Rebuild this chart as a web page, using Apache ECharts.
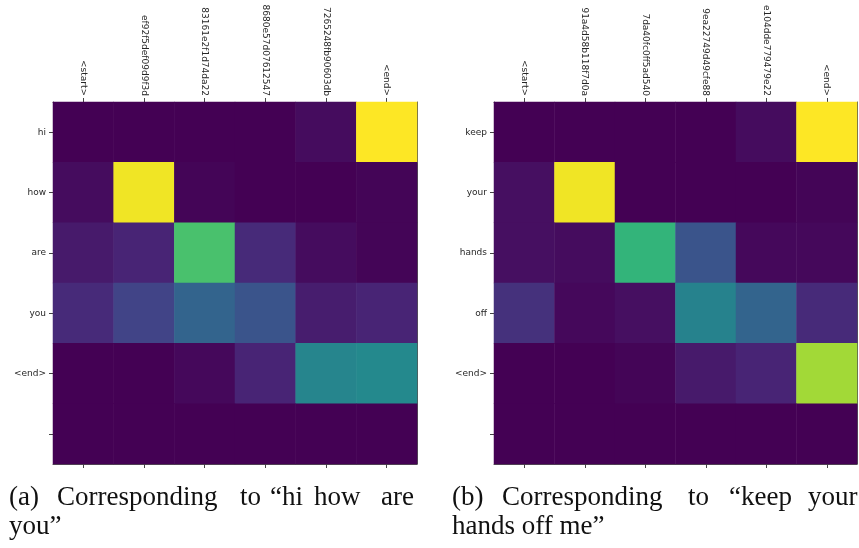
<!DOCTYPE html>
<html>
<head>
<meta charset="utf-8">
<script src="https://cdn.jsdelivr.net/npm/echarts@6/dist/echarts.min.js"></script>
<style>html,body{margin:0;padding:0;background:#fff;}#c{width:859px;height:548px;}</style>
</head>
<body>
<div id="c"></div>
<script>
// ---- data ----
var colsA = ['<start>', 'ef92f5def09d9f3d', '83161e2f1d74da22', '8680e57d07612547', '7265248fb90603db', '<end>'];
var rowsA = ['hi', 'how', 'are', 'you', '<end>', ''];
var valuesA = [
  [0.00, 0.00, 0.00, 0.00, 0.03, 1.00],
  [0.03, 0.98, 0.01, 0.00, 0.00, 0.01],
  [0.07, 0.10, 0.71, 0.12, 0.03, 0.01],
  [0.12, 0.20, 0.32, 0.26, 0.08, 0.10],
  [0.00, 0.00, 0.02, 0.10, 0.45, 0.47],
  [0.00, 0.00, 0.00, 0.00, 0.00, 0.00]
];
var colsB = ['<start>', '91a4d58b118f7d0a', '7da40fc0ff5ad540', '9ea22749d49cfe88', 'e104dde779479e22', '<end>'];
var rowsB = ['keep', 'your', 'hands', 'off', '<end>', ''];
var valuesB = [
  [0.00, 0.00, 0.00, 0.00, 0.03, 1.00],
  [0.04, 0.98, 0.00, 0.00, 0.00, 0.01],
  [0.04, 0.03, 0.65, 0.26, 0.02, 0.02],
  [0.14, 0.02, 0.04, 0.44, 0.32, 0.12],
  [0.00, 0.00, 0.01, 0.07, 0.10, 0.86],
  [0.00, 0.00, 0.00, 0.00, 0.00, 0.00]
];
var captionA1 = [['(a)', 9], ['Corresponding', 57], ['to', 240], ['\u201chi', 270], ['how', 314], ['are', 381]];
var captionA2 = [['you\u201d', 9]];
var captionB1 = [['(b)', 452], ['Corresponding', 502], ['to', 688], ['\u201ckeep', 729], ['your', 808]];
var captionB2 = [['hands off me\u201d', 452]];

var viridis = ['#440154', '#482475', '#414487', '#355f8d', '#2a788e', '#21918c', '#22a884', '#44bf70', '#7ad151', '#bddf26', '#fde725'];

function toData(m) {
  var out = [];
  for (var r = 0; r < m.length; r++) for (var c = 0; c < m[r].length; c++) out.push([c, r, m[r][c]]);
  return out;
}

function labelFont() { return {fontFamily: 'DejaVu Sans', fontSize: 9, color: '#262626'}; }
function lineStyle() { return {color: '#555', width: 1}; }
function tickStyle() { return {show: true, alignWithLabel: true, interval: 0, length: 4, lineStyle: {color: '#444'}}; }

function xTop(grid, cats) {
  return {type: 'category', gridIndex: grid, position: 'top', data: cats, boundaryGap: true,
    axisLine: {show: true, lineStyle: lineStyle()},
    axisTick: tickStyle(),
    axisLabel: Object.assign({rotate: 90, margin: 6, interval: 0}, labelFont()),
    splitLine: {show: false}};
}
function xBottom(grid, cats) {
  return {type: 'category', gridIndex: grid, position: 'bottom', data: cats, boundaryGap: true,
    axisLine: {show: true, lineStyle: lineStyle()},
    axisTick: tickStyle(),
    axisLabel: {show: true, interval: 0, rotate: 90, fontSize: 9, color: 'rgba(0,0,0,0)'},
    splitLine: {show: false}};
}
function yLeft(grid, cats) {
  return {type: 'category', gridIndex: grid, position: 'left', data: cats, inverse: true, boundaryGap: true,
    axisLine: {show: true, lineStyle: lineStyle()},
    axisTick: tickStyle(),
    axisLabel: Object.assign({margin: 7, interval: 0}, labelFont()),
    splitLine: {show: false}};
}
function yRight(grid, cats) {
  return {type: 'category', gridIndex: grid, position: 'right', data: cats, inverse: true, boundaryGap: true,
    axisLine: {show: true, lineStyle: lineStyle()},
    axisTick: {show: false}, axisLabel: {show: false}, splitLine: {show: false}};
}

var graphics = [];
function addWords(words, baseline) {
  words.forEach(function (w) {
    graphics.push({type: 'text', left: w[1], top: baseline - 21,
      style: {text: w[0], font: '27px "Liberation Serif"', fill: '#111'}});
  });
}
addWords(captionA1, 505);
addWords(captionA2, 534);
addWords(captionB1, 505);
addWords(captionB2, 534);

var chart = echarts.init(document.getElementById('c'), null, {renderer: 'canvas'});
chart.setOption({
  animation: false,
  backgroundColor: '#fff',
  grid: [
    {left: 53, top: 102, width: 364, height: 362, containLabel: false, outerBoundsMode: 'none'},
    {left: 494, top: 102, width: 363, height: 362, containLabel: false, outerBoundsMode: 'none'}
  ],
  xAxis: [xTop(0, colsA), xBottom(0, colsA), xTop(1, colsB), xBottom(1, colsB)],
  yAxis: [yLeft(0, rowsA), yRight(0, rowsA), yLeft(1, rowsB), yRight(1, rowsB)],
  visualMap: {show: false, type: 'continuous', min: 0, max: 1, seriesIndex: [0, 1], inRange: {color: viridis}},
  series: [
    {type: 'heatmap', xAxisIndex: 0, yAxisIndex: 0, data: toData(valuesA), itemStyle: {borderWidth: 0}, emphasis: {disabled: true}},
    {type: 'heatmap', xAxisIndex: 2, yAxisIndex: 2, data: toData(valuesB), itemStyle: {borderWidth: 0}, emphasis: {disabled: true}}
  ],
  graphic: graphics
});
</script>
</body>
</html>
